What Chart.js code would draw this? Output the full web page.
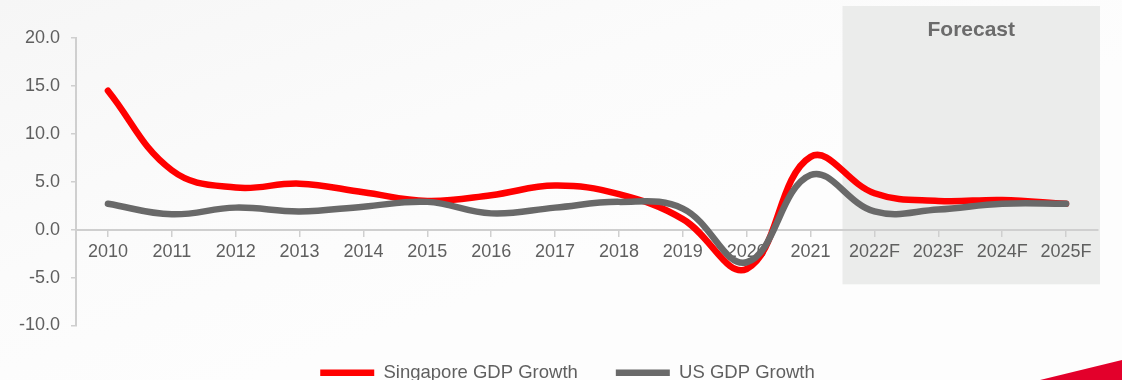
<!DOCTYPE html>
<html>
<head>
<meta charset="utf-8">
<title>Singapore vs US GDP Growth</title>
<script src="https://cdn.jsdelivr.net/npm/chart.js@4.4.1/dist/chart.umd.min.js"></script>
<style>
  html, body { margin: 0; padding: 0; overflow: hidden; }
  body {
    width: 1122px; height: 380px; position: relative;
    background: linear-gradient(160deg, #f6f6f6 0%, #fbfbfb 35%, #fdfdfd 60%, #fdfdfd 100%);
  }
  #wrap { position: absolute; left: 0; top: 0; width: 1122px; height: 392px; }
  /* red corner ribbon */
  .ribbon {
    position: absolute; right: 0; bottom: 0; width: 82px; height: 20px;
    background: #e3002b; clip-path: polygon(0 100%, 100% 0, 100% 100%);
  }
</style>
</head>
<body>
<div id="wrap"><canvas id="gdp"></canvas></div>
<div class="ribbon"></div>
<script>
  const years = ['2010', '2011', '2012', '2013', '2014', '2015', '2016', '2017',
                 '2018', '2019', '2020', '2021', '2022F', '2023F', '2024F', '2025F'];
  const sgGrowth = [14.5, 6.2, 4.4, 4.8, 3.9, 3.0, 3.6, 4.6, 3.7, 1.1, -4.1, 7.6, 3.8, 3.0, 3.1, 2.7];
  const usGrowth = [2.7, 1.6, 2.3, 1.9, 2.4, 2.9, 1.7, 2.3, 2.9, 2.2, -3.4, 5.7, 1.9, 2.1, 2.7, 2.7];
  const yTicks = [-10, -5, 0, 5, 10, 15, 20];
  const forecastFrom = '2022F';
  const forecastLabel = 'Forecast';

  const TEXT = '#5f5f5f';
  const AXIS = '#cfcfcf';
  const FONT = "'Liberation Sans', Arial, sans-serif";

  // shaded band behind the forecast years, with its caption
  const forecastBand = {
    id: 'forecastBand',
    beforeDraw(chart) {
      const { ctx, chartArea, scales } = chart;
      const x = scales.x, y = scales.y;
      const idx = years.indexOf(forecastFrom);
      const left = x.getPixelForValue(idx - 0.5);
      const right = chartArea.right + 2;
      const top = 6;
      const bottom = y.getPixelForValue(-5.7);
      ctx.save();
      ctx.fillStyle = '#ebeceb';
      ctx.fillRect(left, top, right - left, bottom - top);
      ctx.fillStyle = '#6b6b6b';
      ctx.font = 'bold 21px ' + FONT;
      ctx.textAlign = 'center';
      ctx.textBaseline = 'middle';
      ctx.fillText(forecastLabel, (left + right) / 2, 30);
      ctx.restore();
    }
  };

  // centre the legend under the plot area (right of the y labels) rather than the whole canvas
  const legendUnderPlot = {
    id: 'legendUnderPlot',
    afterLayout(chart) {
      if (chart.legend) chart.legend.left += 37;
    }
  };

  new Chart(document.getElementById('gdp'), {
    type: 'line',
    data: {
      labels: years,
      datasets: [
        { label: 'Singapore GDP Growth', data: sgGrowth, borderColor: '#ff0000', backgroundColor: '#ff0000',
          borderWidth: 6.5, borderCapStyle: 'round', tension: 0.4, pointRadius: 0, order: 1 },
        { label: 'US GDP Growth', data: usGrowth, borderColor: '#696969', backgroundColor: '#696969',
          borderWidth: 6.5, borderCapStyle: 'round', tension: 0.4, pointRadius: 0, order: 0 },
      ],
    },
    options: {
      responsive: true,
      maintainAspectRatio: false,
      animation: false,
      layout: { padding: { top: 38, right: 24, left: 0, bottom: 0 } },
      plugins: {
        tooltip: { enabled: false },
        legend: {
          position: 'bottom',
          labels: {
            usePointStyle: true,
            pointStyle: 'line',
            pointStyleWidth: 54,
            padding: 38,
            color: TEXT,
            font: { family: FONT, size: 18.5 },
            sort: (a, b) => a.datasetIndex - b.datasetIndex,
          },
        },
      },
      scales: {
        x: {
          position: { y: 0 },
          offset: true,
          grid: { drawOnChartArea: false, color: AXIS, tickLength: 6, lineWidth: 1.5 },
          border: { color: AXIS, width: 2 },
          ticks: { color: TEXT, font: { family: FONT, size: 18 }, padding: 6, maxRotation: 0, autoSkip: false },
        },
        y: {
          min: -10,
          max: 20,
          afterBuildTicks: (scale) => { scale.ticks = yTicks.map((v) => ({ value: v })); },
          afterFit: (scale) => { scale.width = 76; },
          grid: { drawOnChartArea: false, color: AXIS, tickLength: 5, lineWidth: 1.5 },
          border: { color: AXIS, width: 2 },
          ticks: { color: TEXT, font: { family: FONT, size: 18 }, padding: 11, callback: (v) => Number(v).toFixed(1) },
        },
      },
    },
    plugins: [forecastBand, legendUnderPlot],
  });
</script>
</body>
</html>
